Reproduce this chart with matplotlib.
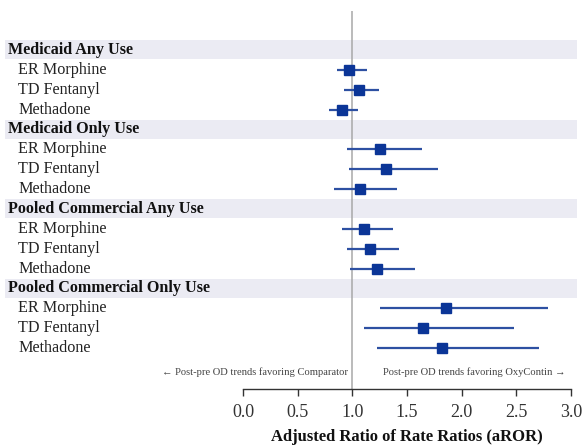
import matplotlib
matplotlib.use("Agg")
import matplotlib.pyplot as plt

plt.rcParams['font.family'] = ['Liberation Serif', 'DejaVu Serif']

groups = ["Medicaid Any Use", "Medicaid Only Use",
          "Pooled Commercial Any Use", "Pooled Commercial Only Use"]
drugs = ["ER Morphine", "TD Fentanyl", "Methadone"]

estimates = [
    [0.97, 1.06, 0.91],
    [1.25, 1.31, 1.07],
    [1.11, 1.16, 1.23],
    [1.86, 1.65, 1.82],
]
lower = [
    [0.86, 0.92, 0.79],
    [0.95, 0.97, 0.83],
    [0.91, 0.95, 0.98],
    [1.25, 1.11, 1.23],
]
upper = [
    [1.13, 1.24, 1.05],
    [1.64, 1.78, 1.41],
    [1.37, 1.43, 1.57],
    [2.79, 2.48, 2.71],
]
xticks = [0.0, 0.5, 1.0, 1.5, 2.0, 2.5, 3.0]
xtick_labels = ["0.0", "0.5", "1.0", "1.5", "2.0", "2.5", "3.0"]
null_value = 1.0

W, H = 586, 446
fig = plt.figure(figsize=(W / 100, H / 100), dpi=100)
ax_left_px, ax_right_px = 5, 577
ax_top_px, ax_bot_px = 11, 389
ax = fig.add_axes([ax_left_px / W, 1 - ax_bot_px / H,
                   (ax_right_px - ax_left_px) / W, (ax_bot_px - ax_top_px) / H])

px0, px3 = 243, 571
ppu = (px3 - px0) / 3.0
ax.set_xlim((ax_left_px - px0) / ppu, (ax_right_px - px0) / ppu)
ax.set_ylim(17.06, -1.96)

band_color = "#ebebf3"
marker_color = "#0b3597"
line_color = "#2d50a2"

row = 0
for gi, g in enumerate(groups):
    ax.axhspan(row - 0.48, row + 0.48, color=band_color, zorder=0, lw=0)
    ax.text((8 - px0) / ppu, row, g, fontsize=11.6, fontweight='bold',
            va='center', ha='left', color='#111111')
    row += 1
    for di, d in enumerate(drugs):
        ax.text((18 - px0) / ppu, row, d, fontsize=11.6, va='center', ha='left',
                color='#222222')
        ax.plot([lower[gi][di], upper[gi][di]], [row, row], color=line_color,
                lw=1.6, zorder=3, solid_capstyle='butt')
        ax.plot([estimates[gi][di]], [row], marker='s', ms=7.5,
                color=marker_color, zorder=4, lw=0)
        row += 1

ax.axvline(null_value, color='#a8a8a8', lw=1.1, zorder=2)

ax.text(0.96, 16.2, "\u2190 Post-pre OD trends favoring Comparator", fontsize=7.6,
        ha='right', va='center', color='#444444')
ax.text(1.28, 16.2, "Post-pre OD trends favoring OxyContin \u2192", fontsize=7.6,
        ha='left', va='center', color='#444444')

for s in ['top', 'right', 'left']:
    ax.spines[s].set_visible(False)
ax.spines['bottom'].set_bounds(0, 3)
ax.spines['bottom'].set_color('#333333')
ax.spines['bottom'].set_linewidth(1.0)
ax.set_yticks([])
ax.set_xticks(xticks)
ax.set_xticklabels(xtick_labels)
ax.tick_params(axis='x', length=5, width=1, color='#333333', labelsize=13,
               labelcolor='#333333', pad=5.5)
ax.set_xlabel("Adjusted Ratio of Rate Ratios (aROR)", fontsize=12,
              fontweight='bold', color='#111111')
ax.xaxis.set_label_coords(((px0 + 1.5 * ppu) - ax_left_px) / (ax_right_px - ax_left_px), -0.105)

fig.savefig("out.png", dpi=100)
